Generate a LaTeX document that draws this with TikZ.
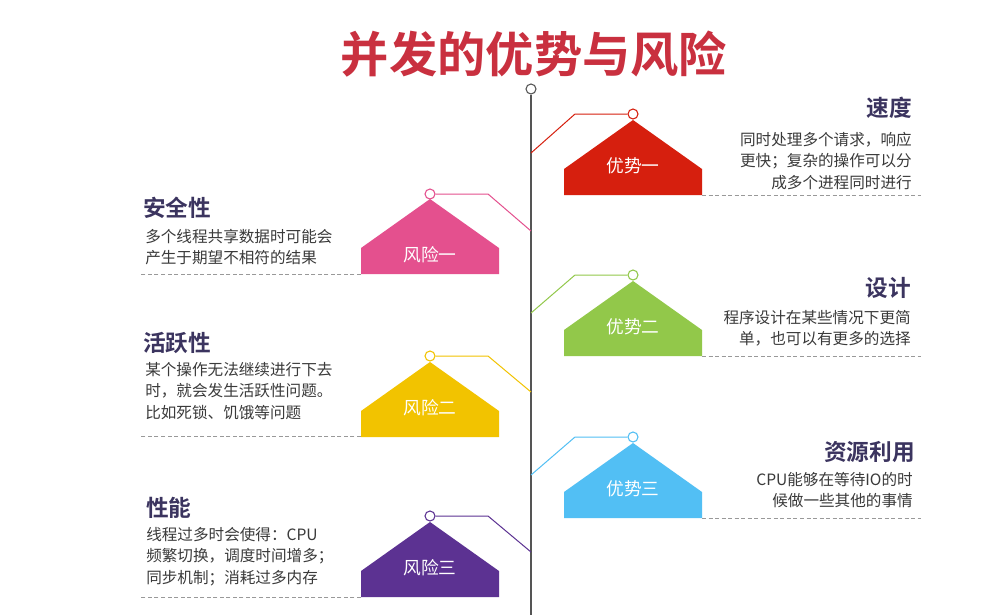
\documentclass[tikz,border=0pt]{standalone}
\usepackage{fontspec}
\setmainfont{Noto Sans CJK SC}[BoldFont={Noto Sans CJK SC Bold}]
\definecolor{titlec}{HTML}{C9303F}
\definecolor{headc}{HTML}{3B345F}
\definecolor{bodyc}{HTML}{3A3A3A}
\definecolor{axisc}{HTML}{555555}
\definecolor{c1}{HTML}{D61F0E}
\definecolor{c2}{HTML}{E4508E}
\definecolor{c3}{HTML}{92C84A}
\definecolor{c4}{HTML}{F2C300}
\definecolor{c5}{HTML}{52BFF4}
\definecolor{c6}{HTML}{5C3292}
\newcommand\househape[3]{%
  \fill[#3] (#1-69,#2+75) -- (#1-69,#2+49) -- (#1,#2) -- (#1+69,#2+49) -- (#1+69,#2+75) -- cycle;}
\begin{document}
\begin{tikzpicture}[x=0.75pt,y=-0.75pt,
  dot/.style={circle,draw,fill=white,minimum size=7.5pt,inner sep=0pt,line width=0.8pt},
  link/.style={line width=0.75pt},
  hlabel/.style={text=white,inner sep=0pt,font=\fontsize{13.3}{16}\selectfont},
  head/.style={text=headc,inner sep=0pt,font=\bfseries\fontsize{17}{20}\selectfont},
  bodytext/.style={text=bodyc,inner sep=0pt,font=\fontsize{11.7}{16}\selectfont},
  dashline/.style={draw=black!40,dash pattern=on 3pt off 1.9pt,line width=0.6pt}]
\useasboundingbox (0,0) rectangle (985,615);
\fill[white] (0,0) rectangle (985,615);

% title
\node[text=titlec,font=\bfseries\fontsize{36.2}{40}\selectfont,inner sep=0pt] (title) at (534,54) {并发的优势与风险};

% main axis
\node[dot,draw=axisc] (top) at (531,89) {};
\coordinate (bot) at (531,615);
\draw[axisc,line width=1pt] (top.south) -- (bot);

% ---------- advantage 1 (red)
\househape{633}{120}{c1}
\node[hlabel] (h1) at (633,166) {优势一};
\node[dot,draw=c1] (d1) at (633,114) {};
\coordinate (k1) at (575,114);
\coordinate (m1) at (531,153);
\draw[link,c1] (d1.west) -- (k1) -- (m1);
\coordinate (e1a) at (702,195);
\coordinate (e1b) at (921,195);
\draw[dashline] (e1a) -- (e1b);
\node[head,anchor=east] (t1) at (912,108) {速度};
\node[bodytext,anchor=north east,align=right] (b1) at (912,132) {同时处理多个请求，响应\\更快；复杂的操作可以分\\成多个进程同时进行};

% ---------- risk 1 (pink)
\househape{430}{199}{c2}
\node[hlabel] (h2) at (430,255) {风险一};
\node[dot,draw=c2] (d2) at (430,194) {};
\coordinate (k2) at (488,194);
\coordinate (m2) at (531,231);
\draw[link,c2] (d2.east) -- (k2) -- (m2);
\coordinate (e2a) at (361,274);
\coordinate (e2b) at (141,274);
\draw[dashline] (e2a) -- (e2b);
\node[head,anchor=west] (t2) at (143,208) {安全性};
\node[bodytext,anchor=north west,align=left] (b2) at (145,229) {多个线程共享数据时可能会\\产生于期望不相符的结果};

% ---------- advantage 2 (green)
\househape{633}{281}{c3}
\node[hlabel] (h3) at (633,327) {优势二};
\node[dot,draw=c3] (d3) at (633,275) {};
\coordinate (k3) at (575,275);
\coordinate (m3) at (531,313);
\draw[link,c3] (d3.west) -- (k3) -- (m3);
\coordinate (e3a) at (702,356);
\coordinate (e3b) at (921,356);
\draw[dashline] (e3a) -- (e3b);
\node[head,anchor=east] (t3) at (911,288) {设计};
\node[bodytext,anchor=north east,align=right] (b3) at (911,310) {程序设计在某些情况下更简\\单，也可以有更多的选择};

% ---------- risk 2 (yellow)
\househape{430}{362}{c4}
\node[hlabel] (h4) at (430,408) {风险二};
\node[dot,draw=c4] (d4) at (430,356) {};
\coordinate (k4) at (488,356);
\coordinate (m4) at (531,392);
\draw[link,c4] (d4.east) -- (k4) -- (m4);
\coordinate (e4a) at (361,436);
\coordinate (e4b) at (141,436);
\draw[dashline] (e4a) -- (e4b);
\node[head,anchor=west] (t4) at (143,343) {活跃性};
\node[bodytext,anchor=north west,align=left] (b4) at (145,362) {某个操作无法继续进行下去\\时，就会发生活跃性问题。\\比如死锁、饥饿等问题};

% ---------- advantage 3 (blue)
\househape{633}{443}{c5}
\node[hlabel] (h5) at (633,489) {优势三};
\node[dot,draw=c5] (d5) at (633,437) {};
\coordinate (k5) at (575,437);
\coordinate (m5) at (531,475);
\draw[link,c5] (d5.west) -- (k5) -- (m5);
\coordinate (e5a) at (702,518);
\coordinate (e5b) at (921,518);
\draw[dashline] (e5a) -- (e5b);
\node[head,anchor=east] (t5) at (915,452) {资源利用};
\node[bodytext,anchor=north east,align=right] (b5) at (913,472) {CPU能够在等待IO的时\\候做一些其他的事情};

% ---------- risk 3 (purple)
\househape{430}{522}{c6}
\node[hlabel] (h6) at (430,568) {风险三};
\node[dot,draw=c6] (d6) at (430,516) {};
\coordinate (k6) at (488,516);
\coordinate (m6) at (531,552);
\draw[link,c6] (d6.east) -- (k6) -- (m6);
\coordinate (e6a) at (361,597);
\coordinate (e6b) at (141,597);
\draw[dashline] (e6a) -- (e6b);
\node[head,anchor=west] (t6) at (146,508) {性能};
\node[bodytext,anchor=north west,align=left] (b6) at (146,527) {线程过多时会使得：CPU\\频繁切换，调度时间增多；\\同步机制；消耗过多内存};
\end{tikzpicture}
\end{document}
